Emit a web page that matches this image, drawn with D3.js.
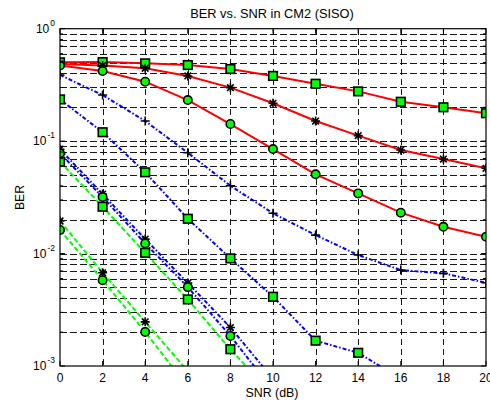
<!DOCTYPE html>
<html>
<head>
<meta charset="utf-8">
<script src="https://cdn.jsdelivr.net/npm/d3@7"></script>
<style>
  html, body { margin: 0; padding: 0; background: #fff; }
  svg { display: block; font-family: "Liberation Sans", Arial, sans-serif; }
</style>
</head>
<body>
<svg id="chart" width="490" height="402"></svg>
<script>
// SNR points (dB)
const snr = [0, 2, 4, 6, 8, 10, 12, 14, 16, 18, 20];
const snrShort = [0, 2, 4, 6];
const snrMid = [0, 2, 4, 6, 8, 10];
const snrBlueSq = [0, 2, 4, 6, 8, 10, 12, 14, 16];

// Red solid curves
const redSquare = [0.502, 0.505, 0.492, 0.475, 0.438, 0.380, 0.324, 0.277, 0.224, 0.200, 0.177];
const redStar   = [0.485, 0.470, 0.444, 0.380, 0.299, 0.217, 0.151, 0.112, 0.0833, 0.0693, 0.0573];
const redCircle = [0.470, 0.420, 0.338, 0.232, 0.142, 0.085, 0.0507, 0.0343, 0.0231, 0.0173, 0.0141];

// Blue dash-dot curves
const bluePlus   = [0.388, 0.257, 0.151, 0.0788, 0.0401, 0.0228, 0.0146, 0.0097, 0.00713, 0.00667, 0.00550];
const blueSquare = [0.235, 0.120, 0.0528, 0.0204, 0.00906, 0.00413, 0.00168, 0.00131, 0.00077];
const blueStar   = [0.0845, 0.0338, 0.01345, 0.00547, 0.0022, 0.00077];
const blueCircle = [0.0779, 0.0318, 0.0123, 0.00503, 0.00185, 0.00061];

// Green dashed curves
const greenSquare = [0.0656, 0.0261, 0.01016, 0.00391, 0.00141, 0.00055];
const greenStar   = [0.0195, 0.00675, 0.00247, 0.0009];
const greenCircle = [0.0162, 0.0058, 0.00201, 0.00065];

// Axis ticks
const xTicks = [0, 2, 4, 6, 8, 10, 12, 14, 16, 18, 20];
const yExponents = [0, -1, -2, -3];

const series = [
  { x: snr, y: redSquare, color: "#ff0000", dash: null, marker: "square" },
  { x: snr, y: redStar, color: "#ff0000", dash: null, marker: "star" },
  { x: snr, y: redCircle, color: "#ff0000", dash: null, marker: "circle" },
  { x: snr, y: bluePlus, color: "#0000ff", dash: "4,2,1.5,2", marker: "plus" },
  { x: snrBlueSq, y: blueSquare, color: "#0000ff", dash: "4,2,1.5,2", marker: "square" },
  { x: snrMid, y: blueStar, color: "#0000ff", dash: "4,2,1.5,2", marker: "star" },
  { x: snrMid, y: blueCircle, color: "#0000ff", dash: "4,2,1.5,2", marker: "circle" },
  { x: snrMid, y: greenSquare, color: "#00ff00", dash: "5,2.5", marker: "square" },
  { x: snrShort, y: greenStar, color: "#00ff00", dash: "5,2.5", marker: "star" },
  { x: snrShort, y: greenCircle, color: "#00ff00", dash: "5,2.5", marker: "circle" }
];

const svg = d3.select("#chart");
const plotL = 60, plotR = 486, plotT = 28.7, plotB = 366;

const x = d3.scaleLinear().domain([0, 20]).range([plotL, plotR]);
const y = d3.scaleLog().domain([1e-3, 1]).range([plotB, plotT]);

svg.append("defs").append("clipPath").attr("id", "plotClip")
  .append("rect").attr("x", plotL).attr("y", plotT)
  .attr("width", plotR - plotL).attr("height", plotB - plotT);

// Grid: dashed lines at every x tick and every log decade subdivision
const minorY = [];
for (let e = -3; e < 0; e++) {
  for (let m = 1; m <= 9; m++) minorY.push(m * Math.pow(10, e));
}
minorY.push(1);

const grid = svg.append("g").attr("stroke", "#000").attr("stroke-width", 0.9)
  .attr("stroke-dasharray", "6.5,3.5").attr("shape-rendering", "crispEdges");
grid.selectAll("line.gx").data(xTicks.slice(1, -1)).join("line")
  .attr("x1", d => Math.round(x(d)) + 0.5).attr("x2", d => Math.round(x(d)) + 0.5)
  .attr("y1", plotT).attr("y2", plotB);
grid.selectAll("line.gy").data(minorY.filter(v => v > 1e-3 && v < 1)).join("line")
  .attr("y1", d => Math.round(y(d)) + 0.5).attr("y2", d => Math.round(y(d)) + 0.5)
  .attr("x1", plotL).attr("x2", plotR);

// Curves
const line = d3.line().x(d => x(d[0])).y(d => y(d[1]));
const plot = svg.append("g").attr("clip-path", "url(#plotClip)");

series.forEach(s => {
  const pts = s.x.map((v, i) => [v, s.y[i]]);
  plot.append("path").datum(pts)
    .attr("fill", "none").attr("stroke", s.color).attr("stroke-width", 2)
    .attr("stroke-dasharray", s.dash).attr("d", line);
});

function drawMarker(g, kind, cx, cy) {
  if (kind === "square") {
    g.append("rect").attr("x", cx - 4.3).attr("y", cy - 4.3).attr("width", 8.6).attr("height", 8.6)
      .attr("fill", "#00ff00").attr("stroke", "#000").attr("stroke-width", 1.6);
  } else if (kind === "circle") {
    g.append("circle").attr("cx", cx).attr("cy", cy).attr("r", 4.2)
      .attr("fill", "#00ff00").attr("stroke", "#000").attr("stroke-width", 1.6);
  } else if (kind === "plus") {
    const r = 4.5;
    g.append("path").attr("d", `M${cx - r},${cy}H${cx + r}M${cx},${cy - r}V${cy + r}`)
      .attr("stroke", "#000").attr("stroke-width", 1.6).attr("fill", "none");
  } else if (kind === "star") {
    const r = 4.5, q = 3.3;
    g.append("path")
      .attr("d", `M${cx - r},${cy}H${cx + r}M${cx},${cy - r}V${cy + r}` +
                 `M${cx - q},${cy - q}L${cx + q},${cy + q}M${cx - q},${cy + q}L${cx + q},${cy - q}`)
      .attr("stroke", "#000").attr("stroke-width", 1.6).attr("fill", "none");
  }
}

series.forEach(s => {
  const g = plot.append("g");
  s.x.forEach((v, i) => drawMarker(g, s.marker, x(v), y(s.y[i])));
});

// Axes box
svg.append("rect").attr("x", plotL).attr("y", plotT)
  .attr("width", plotR - plotL).attr("height", plotB - plotT)
  .attr("fill", "none").attr("stroke", "#000").attr("stroke-width", 1.2);

// Inward ticks
const ticks = svg.append("g").attr("stroke", "#000").attr("stroke-width", 1);
xTicks.forEach(t => {
  ticks.append("line").attr("x1", x(t)).attr("x2", x(t)).attr("y1", plotB).attr("y2", plotB - 5);
  ticks.append("line").attr("x1", x(t)).attr("x2", x(t)).attr("y1", plotT).attr("y2", plotT + 5);
});
minorY.forEach(v => {
  const major = Math.abs(Math.log10(v) - Math.round(Math.log10(v))) < 1e-9;
  const len = major ? 5 : 3;
  ticks.append("line").attr("x1", plotL).attr("x2", plotL + len).attr("y1", y(v)).attr("y2", y(v));
  ticks.append("line").attr("x1", plotR).attr("x2", plotR - len).attr("y1", y(v)).attr("y2", y(v));
});

// X tick labels
svg.append("g").selectAll("text").data(xTicks).join("text")
  .attr("x", d => x(d)).attr("y", plotB + 15.5)
  .attr("text-anchor", "middle").attr("font-size", 12).attr("fill", "#000")
  .text(d => d);

// Y tick labels: 10 with superscript exponent
const yl = svg.append("g");
yExponents.forEach(e => {
  const t = yl.append("text").attr("x", 55).attr("y", y(Math.pow(10, e)) + 4.3)
    .attr("text-anchor", "end").attr("font-size", 12).attr("fill", "#000");
  t.append("tspan").text("10");
  t.append("tspan").attr("dx", 1).attr("dy", -7).attr("font-size", 8.5).text(e);
});

// Title and axis labels
svg.append("text").attr("x", 272).attr("y", 18).attr("text-anchor", "middle")
  .attr("font-size", 12.8).attr("fill", "#000").text("BER vs. SNR in CM2 (SISO)");
svg.append("text").attr("x", 272).attr("y", 396.5).attr("text-anchor", "middle")
  .attr("font-size", 12.4).attr("fill", "#000").text("SNR (dB)");
svg.append("text").attr("transform", "translate(24,197.5) rotate(-90)")
  .attr("text-anchor", "middle").attr("font-size", 12.2).attr("fill", "#000").text("BER");
</script>
</body>
</html>
